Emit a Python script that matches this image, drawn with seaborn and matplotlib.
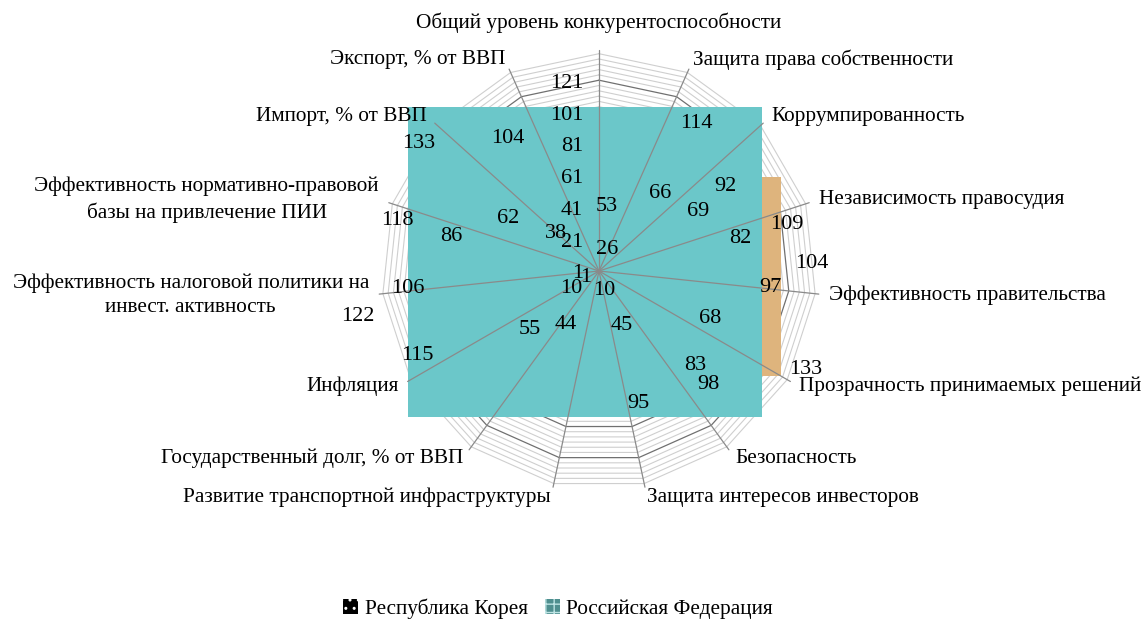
import numpy as np
import matplotlib
matplotlib.use('Agg')
import matplotlib.pyplot as plt
import seaborn as sns
from matplotlib.patches import Patch

# --- данные (ранги) ---
categories = [
    'Общий уровень конкурентоспособности',
    'Защита права собственности',
    'Коррумпированность',
    'Независимость правосудия',
    'Эффективность правительства',
    'Прозрачность принимаемых решений',
    'Безопасность',
    'Защита интересов инвесторов',
    'Развитие транспортной инфраструктуры',
    'Государственный долг, % от ВВП',
    'Инфляция',
    'Эффективность налоговой политики на\nинвест. активность',
    'Эффективность нормативно-правовой\nбазы на привлечение ПИИ',
    'Импорт, % от ВВП',
    'Экспорт, % от ВВП',
]
korea = [26, 66, 69, 82, 97, 133, 83, 45, 10, 55, 1, 106, 118, 62, 38]
russia = [53, 114, 92, 109, 104, 68, 98, 95, 44, 10, 115, 122, 86, 133, 104]
series_names = ['Республика Корея', 'Российская Федерация']
tick_values = [1, 21, 41, 61, 81, 101, 121]

sns.set_theme(style='white')
plt.rcParams['font.family'] = ['Liberation Serif', 'DejaVu Serif']
plt.rcParams['text.color'] = 'black'

teal = '#6BC7C9'
tan = '#DEB47D'
fs_cat = 15.3
fs_num = 16

fig = plt.figure(figsize=(11.47, 6.2), dpi=100)
ax = fig.add_axes([0, 0, 1, 1])
ax.axis('off')

px = 1.59          # пикселей на единицу шкалы
cx, cy = 599, 271  # центр диаграммы в пикселях
ax.set_xlim(-cx / px, (1147 - cx) / px)
ax.set_ylim(-(620 - cy) / px, cy / px)

n = len(categories)
theta = np.deg2rad(np.arange(n) * 360 / n)
s, c = np.sin(theta), np.cos(theta)


def xy(vals):
    u = np.asarray(vals, dtype=float) - 1
    return u * s, u * c


# сетка: многоугольники
step = 20 / 6
for i in range(1, 42):
    lev = 1 + i * step
    x, y = xy([lev] * n)
    major = i % 6 == 0
    ax.plot(np.append(x, x[0]), np.append(y, y[0]),
            color='#707070' if major else '#cfcfcf',
            lw=0.9 if major else 0.8, zorder=1)

# заливки рядов (как в исходнике - прямоугольники по габаритам)
for vals, col, z in [(korea, tan, 2), (russia, teal, 3)]:
    x, y = xy(vals)
    ax.fill_between([x.min(), x.max()], y.min(), y.max(), color=col, lw=0, zorder=z)

# оси-лучи
r_end = 139
for k in range(n):
    ax.plot([0, r_end * s[k]], [0, r_end * c[k]], color='#8a8a8a', lw=0.9, zorder=4)

# подписи шкалы
for t in tick_values:
    ax.annotate(str(t), (0, t - 1), xytext=(-16, -3), textcoords='offset pixels',
                ha='right', va='center', fontsize=fs_num, zorder=5)

# подписи данных
for vals, other in [(korea, russia), (russia, korea)]:
    x, y = xy(vals)
    for k in range(n):
        small = vals[k] < 15
        lim = 0.25 if small else 0.1
        if s[k] > 0.3:
            ha, dx = 'left', 8
        elif s[k] < -lim:
            ha, dx = 'right', -8
        else:
            ha, dx = 'center', 8
        dy = -6 if small else -16 * c[k] - 2
        # почти горизонтальные оси: близкие подписи разводим
        if abs(c[k]) < 0.3 and abs(vals[k] - other[k]) < 20 and vals[k] > other[k]:
            sg = np.sign(s[k])
            dx += sg * 25
            dy += sg * 25
        ax.annotate(str(vals[k]), (x[k], y[k]), xytext=(dx, dy),
                    textcoords='offset pixels', ha=ha, va='center',
                    fontsize=fs_num, zorder=6)

# подписи категорий
for k, name in enumerate(categories):
    r = 156 if k == 0 else 145.5
    if abs(s[k]) < 0.1:
        ha = 'center'
    elif s[k] > 0:
        ha = 'left'
    else:
        ha = 'right'
    ax.text(r * s[k], r * c[k], name, ha=ha, va='center', ma='center',
            linespacing=1.4, fontsize=fs_cat, zorder=7)

handles = [
    Patch(facecolor='black', edgecolor='white', hatch='..', lw=0),
    Patch(facecolor='#4f8f8f', edgecolor='#bde3e3', hatch='++', lw=0),
]
fig.legend(handles, series_names, loc='center', bbox_to_anchor=(558 / 1147, 1 - 609 / 620),
           ncol=2, frameon=False, fontsize=fs_cat, handlelength=0.7, handleheight=0.7,
           handletextpad=0.3, columnspacing=0.8)

fig.savefig('out.png', dpi=100)
